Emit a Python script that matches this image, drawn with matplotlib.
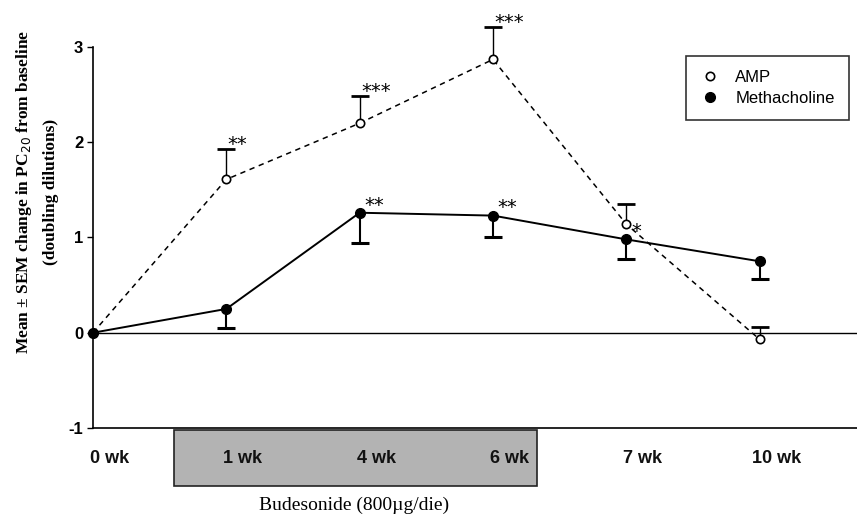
import matplotlib
matplotlib.use("Agg")
import matplotlib.pyplot as plt
from matplotlib.patches import Rectangle
import matplotlib.transforms as mtransforms

categories = ["0 wk", "1 wk", "4 wk", "6 wk", "7 wk", "10 wk"]
amp_mean = [0.0, 1.61, 2.20, 2.87, 1.14, -0.07]
amp_sem = [0.0, 0.32, 0.29, 0.34, 0.21, 0.13]
mch_mean = [0.0, 0.25, 1.26, 1.23, 0.98, 0.75]
mch_sem = [0.0, 0.20, 0.32, 0.23, 0.21, 0.19]
amp_stars = ["", "**", "***", "***", "", ""]
mch_stars = ["", "", "**", "**", "*", ""]

fig = plt.figure(figsize=(8.57, 5.15), dpi=100)
ax = fig.add_axes([0.1085, 0.169, 0.8915, 0.7397])

x = list(range(len(categories)))

ax.axhline(0, color="black", lw=1.0, zorder=1)

# AMP error bars (upward only)
amp_top = [m + s for m, s in zip(amp_mean, amp_sem)]
ax.vlines(x[1:], amp_mean[1:], amp_top[1:], color="black", lw=1.0, zorder=2, clip_on=False)
ax.plot(x[1:], amp_top[1:], ls="none", marker="_", ms=13, mew=2.0, color="black",
        zorder=2, clip_on=False)
# Methacholine error bars (downward only)
mch_bot = [m - s for m, s in zip(mch_mean, mch_sem)]
ax.vlines(x[1:], mch_bot[1:], mch_mean[1:], color="black", lw=1.5, zorder=2, clip_on=False)
ax.plot(x[1:], mch_bot[1:], ls="none", marker="_", ms=13, mew=2.2, color="black",
        zorder=2, clip_on=False)

# lines
ax.plot(x, amp_mean, ls=(0, (3.5, 3)), color="black", lw=1.1, clip_on=False, zorder=3)
ax.plot(x, mch_mean, ls="-", color="black", lw=1.4, clip_on=False, zorder=3)
ax.plot(x, amp_mean, ls="none", marker="o", mfc="white", mec="black", ms=6, mew=1.2,
        clip_on=False, zorder=4)
ax.plot(x, mch_mean, ls="none", marker="o", mfc="black", mec="black", ms=7,
        clip_on=False, zorder=5)

star_font = dict(fontsize=14, family="DejaVu Sans", color="black")
for xi, top, lab in zip(x, amp_top, amp_stars):
    if lab:
        ax.annotate(lab, xy=(xi, top), xytext=(1.0, 3.0), textcoords="offset points",
                    ha="left", va="center", annotation_clip=False, **star_font)
for xi, m, lab in zip(x, mch_mean, mch_stars):
    if lab:
        ax.annotate(lab, xy=(xi, m), xytext=(3.5, 5.5), textcoords="offset points",
                    ha="left", va="center", annotation_clip=False, **star_font)

ax.set_xlim(0, 5.73)
ax.set_ylim(-1, 3)
ax.set_yticks([-1, 0, 1, 2, 3])
ax.set_yticklabels(["-1", "0", "1", "2", "3"], fontfamily="Liberation Sans",
                   fontweight="bold", fontsize=12)
ax.set_xticks([xi + 0.125 for xi in x])
ax.set_xticklabels(categories, fontfamily="Liberation Sans", fontweight="bold",
                   fontsize=13, color="#111111")
ax.tick_params(axis="x", length=0, pad=16)
ax.tick_params(axis="y", length=4, width=1, direction="out", pad=3)
for sp in ["top", "right"]:
    ax.spines[sp].set_visible(False)
ax.spines["left"].set_linewidth(1.2)
ax.spines["bottom"].set_linewidth(1.2)

# Budesonide treatment box
trans = mtransforms.blended_transform_factory(ax.transData, ax.transAxes)
rect = Rectangle((0.61, -0.152), 2.72, 0.147, transform=trans, facecolor="#b3b3b3",
                 edgecolor="#222222", lw=1.2, clip_on=False, zorder=0.5)
ax.add_patch(rect)
ax.text(1.96, -0.203, "Budesonide (800µg/die)", transform=trans, ha="center", va="center",
        fontfamily="Liberation Serif", fontsize=14)

# legend
leg = ax.legend(handles=[
    plt.Line2D([], [], ls="none", marker="o", mfc="white", mec="black", ms=6, mew=1.2),
    plt.Line2D([], [], ls="none", marker="o", mfc="black", mec="black", ms=7)],
    labels=["AMP", "Methacholine"], loc="upper right", bbox_to_anchor=(0.9895, 0.976),
    prop={"family": "Liberation Sans", "size": 12}, frameon=True, fancybox=False,
    edgecolor="black", handlelength=1.2, handletextpad=0.92, borderpad=0.85,
    borderaxespad=0, labelspacing=0.35)
leg.get_frame().set_linewidth(1.2)

fig.text(0.028, 0.627, "Mean ± SEM change in PC$_{20}$ from baseline", rotation=90,
         ha="center", va="center", fontfamily="Liberation Serif", fontweight="bold",
         fontsize=12.5)
fig.text(0.060, 0.627, "(doubling dilutions)", rotation=90, ha="center", va="center",
         fontfamily="Liberation Serif", fontweight="bold", fontsize=12.5)

fig.savefig("out.png", dpi=100)
